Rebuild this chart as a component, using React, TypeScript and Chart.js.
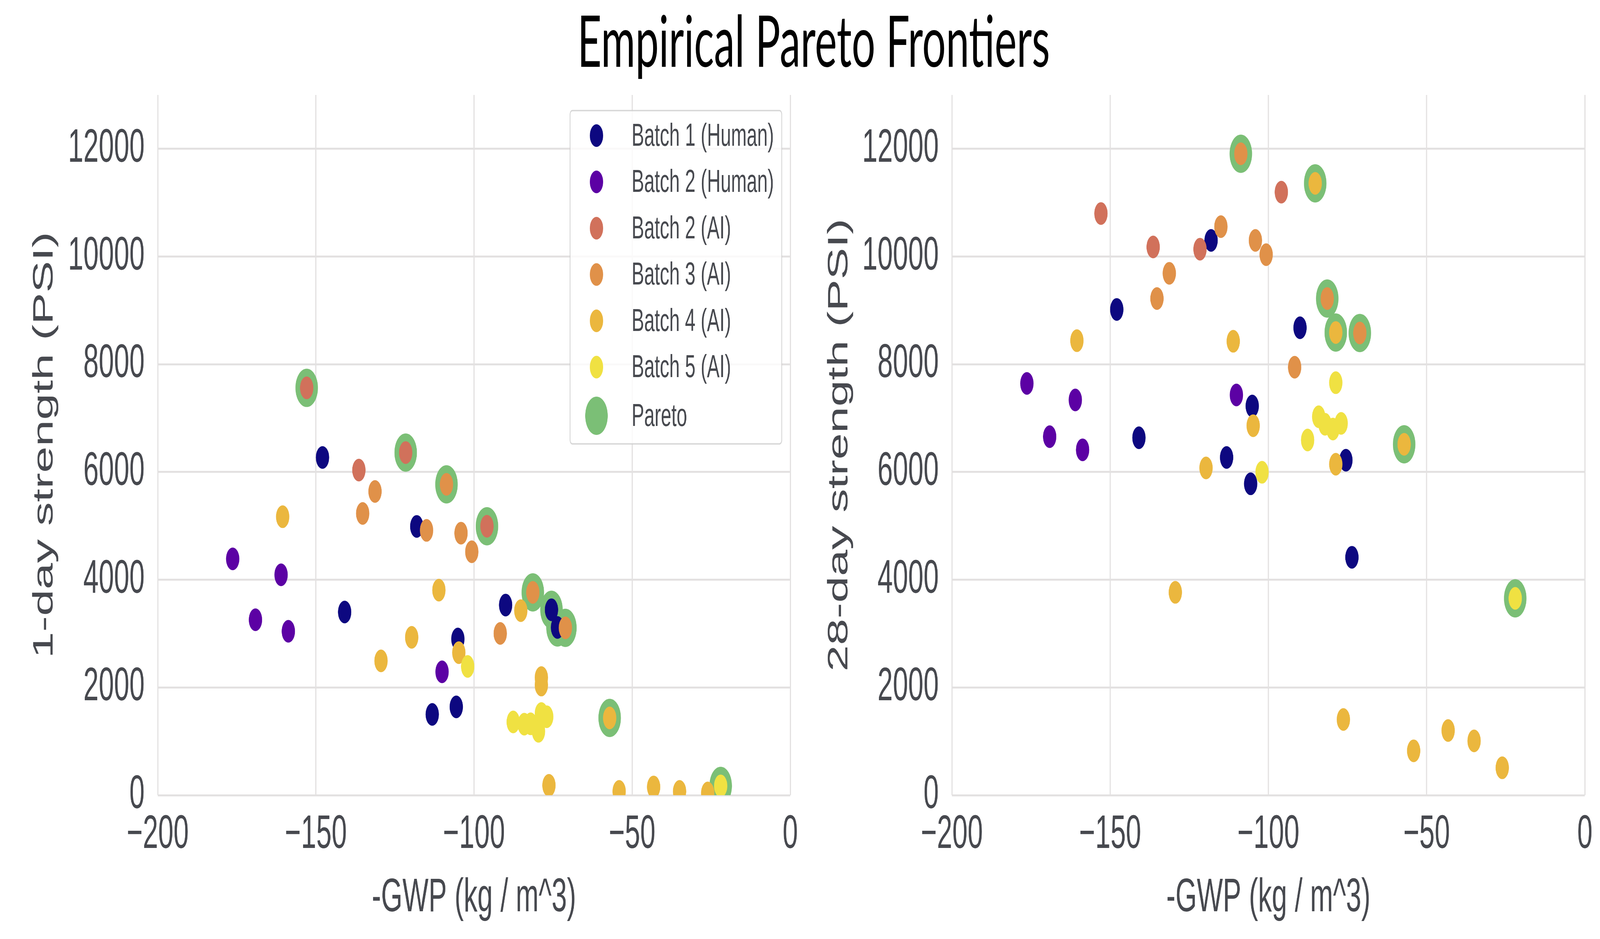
import { useEffect, useRef, useState } from 'react';
import { Chart, registerables } from 'chart.js';

// Register all Chart.js components
Chart.register(...registerables);

const FIG_W = 6969;
const FIG_H = 2403;

const batchLabels = ['Batch 1 (Human)', 'Batch 2 (Human)', 'Batch 2 (AI)', 'Batch 3 (AI)', 'Batch 4 (AI)', 'Batch 5 (AI)'];
const batchColors = ['#0d0880', '#5c01a4', '#d1715b', '#e09149', '#ebb73e', '#f0e142'];
const paretoLabel = 'Pareto';
const paretoColor = '#7bbf76';

const xTicks = [-200, -150, -100, -50, 0];
const yTicks = [0, 2000, 4000, 6000, 8000, 10000, 12000];

// -GWP (kg / m^3), 1-day and 28-day strength (PSI) per mix
const batch1Gwp = [-147.9, -118.1, -140.9, -113.2, -105.1, -105.6, -90.0, -75.5, -73.6];
const batch1Day1 = [6270, 4990, 3400, 1500, 2900, 1640, 3530, 3443, 3114];
const batch1Day28 = [9018, 10300, 6636, 6270, 7226, 5781, 8678, 6219, 4417];

const batch2HGwp = [-176.3, -161.0, -169.1, -158.7, -110.1];
const batch2HDay1 = [4387, 4092, 3257, 3043, 2290];
const batch2HDay28 = [7644, 7338, 6656, 6412, 7430];

const batch2AGwp = [-152.9, -136.4, -121.6, -95.9];
const batch2ADay1 = [7562, 6036, 6361, 4993];
const batch2ADay28 = [10799, 10178, 10137, 11196];

const batch3Gwp = [-131.3, -135.2, -108.7, -115.0, -104.1, -100.7, -91.7, -81.4, -71.1];
const batch3Day1 = [5639, 5231, 5771, 4916, 4865, 4519, 3003, 3765, 3107];
const batch3Day28 = [9689, 9221, 11908, 10555, 10300, 10035, 7945, 9220, 8581];

const batch4Gwp = [-160.5, -111.1, -119.7, -129.4, -104.8, -85.2, -78.7, -78.7, -57.1, -76.3, -54.1, -43.2, -35.0, -26.1];
const batch4Day1 = [5170, 3807, 2931, 2494, 2646, 3426, 2183, 2045, 1435, 183, 71, 153, 71, 41];
const batch4Day28 = [8438, 8427, 6076, 3766, 6860, 11359, 8590, 6145, 6514, 1405, 824, 1201, 1008, 509];

const batch5Gwp = [-102.0, -87.6, -84.1, -82.1, -78.7, -77.0, -79.6, -22.0];
const batch5Day1 = [2390, 1360, 1318, 1325, 1516, 1457, 1187, 173];
const batch5Day28 = [5995, 6594, 7026, 6887, 7658, 6903, 6797, 3654];

const paretoDay1Gwp = [-152.9, -121.6, -108.7, -95.9, -81.4, -75.5, -73.6, -71.1, -57.1, -22.0];
const paretoDay1 = [7562, 6361, 5771, 4993, 3765, 3443, 3114, 3107, 1435, 173];
const paretoDay28Gwp = [-108.7, -85.2, -81.4, -78.7, -71.1, -57.1, -22.0];
const paretoDay28 = [11908, 11359, 9220, 8590, 8581, 6514, 3654];

const batchGwp = [batch1Gwp, batch2HGwp, batch2AGwp, batch3Gwp, batch4Gwp, batch5Gwp];
const batchDay1 = [batch1Day1, batch2HDay1, batch2ADay1, batch3Day1, batch4Day1, batch5Day1];
const batchDay28 = [batch1Day28, batch2HDay28, batch2ADay28, batch3Day28, batch4Day28, batch5Day28];

const textColor = '#47494f';
const gridColor = '#e3e1e1';
const fontFamily = '"Liberation Sans", Arial, sans-serif';

const PLOT_TOP = 243;
const PLOT_BOTTOM = 2035;

const toPoints = (xs: number[], ys: number[]) => xs.map((x, i) => ({ x, y: ys[i] }));
const minusTick = (v: number | string) => {
  const n = Number(v);
  return n < 0 ? `\u2212${Math.abs(n)}` : `${n}`;
};

// legend drawn inside the plot, like matplotlib's "best" location
const legendBoxPlugin = {
  id: 'legendBox',
  afterDatasetsDraw(chart: any, _args: any, opts: any) {
    if (!opts || !opts.display) return;
    const ctx = chart.ctx;
    const { right, top } = chart.chartArea;
    const boxW = 922;
    const boxH = 853;
    const x0 = right - 37 - boxW;
    const y0 = top + 40;
    ctx.save();
    ctx.beginPath();
    ctx.roundRect(x0, y0, boxW, boxH, 10);
    ctx.fillStyle = 'rgba(255,255,255,0.8)';
    ctx.fill();
    ctx.lineWidth = 3.5;
    ctx.strokeStyle = 'rgba(204,204,204,0.8)';
    ctx.stroke();
    const entries = batchLabels.map((label, i) => ({ label, color: batchColors[i], r: 29 }));
    entries.push({ label: paretoLabel, color: paretoColor, r: 49 });
    ctx.font = `82px ${fontFamily}`;
    ctx.textBaseline = 'middle';
    entries.forEach((e, i) => {
      const cy = y0 + 64 + i * 118.5 + (i === 6 ? 6 : 0);
      ctx.beginPath();
      ctx.arc(x0 + 115, cy, e.r, 0, Math.PI * 2);
      ctx.fillStyle = e.color;
      ctx.fill();
      ctx.fillStyle = textColor;
      ctx.fillText(e.label, x0 + 268, cy + 3);
    });
    ctx.restore();
  },
};

interface PanelProps {
  left: number;
  width: number;
  plotRight: number; // wanted right edge of the plot area, in canvas pixels
  yValues: number[][];
  paretoGwp: number[];
  paretoVal: number[];
  yTitle: string;
  yAxisWidth: number;
  yTitlePad: number;
  showLegend: boolean;
}

const Panel = ({ left, width, plotRight, yValues, paretoGwp, paretoVal, yTitle, yAxisWidth, yTitlePad, showLegend }: PanelProps) => {
  const chartRef = useRef<HTMLCanvasElement>(null);
  const chartInstance = useRef<Chart | null>(null);

  useEffect(() => {
    if (!chartRef.current) return;
    if (chartInstance.current) chartInstance.current.destroy();
    const ctx = chartRef.current.getContext('2d');
    if (!ctx) return;

    const datasets: any[] = batchLabels.map((label, i) => ({
      label,
      data: toPoints(batchGwp[i], yValues[i]),
      backgroundColor: batchColors[i],
      borderWidth: 0,
      pointRadius: 29,
      pointHoverRadius: 29,
      clip: 0,
      order: 5 - i, // later batches on top
    }));
    datasets.push({
      label: paretoLabel,
      data: toPoints(paretoGwp, paretoVal),
      backgroundColor: paretoColor,
      borderWidth: 0,
      pointRadius: 49,
      pointHoverRadius: 49,
      clip: 0,
      order: 10,
    });

    const padding = { top: PLOT_TOP, right: width - plotRight, bottom: 0, left: 0 };

    const chart = new Chart(ctx, {
      type: 'scatter',
      data: { datasets },
      plugins: [legendBoxPlugin],
      options: {
        animation: false,
        responsive: false,
        devicePixelRatio: 1,
        layout: { padding },
        plugins: {
          legend: { display: false },
          tooltip: { enabled: false },
          legendBox: { display: showLegend },
        } as any,
        scales: {
          x: {
            type: 'linear',
            min: -200,
            max: 0,
            afterFit: (s: any) => { s.height = FIG_H - PLOT_BOTTOM; },
            afterBuildTicks: (s: any) => { s.ticks = xTicks.map((value) => ({ value })); },
            ticks: {
              autoSkip: false,
              callback: minusTick,
              color: textColor,
              font: { family: fontFamily, size: 120 },
              padding: 30,
              maxRotation: 0,
            },
            grid: { color: gridColor, lineWidth: 5, drawTicks: false },
            border: { display: false },
            title: {
              display: true,
              text: '-GWP (kg / m^3)',
              color: textColor,
              font: { family: fontFamily, size: 120 },
              padding: { top: 0, bottom: 32 },
            },
          },
          y: {
            type: 'linear',
            min: 0,
            max: 13000,
            afterFit: (s: any) => { s.width = yAxisWidth; },
            afterBuildTicks: (s: any) => { s.ticks = yTicks.map((value) => ({ value })); },
            ticks: {
              autoSkip: false,
              callback: (v: number | string) => `${v}`,
              color: textColor,
              font: { family: fontFamily, size: 120 },
              padding: 57,
            },
            grid: { color: gridColor, lineWidth: 5, drawTicks: false },
            border: { display: false },
            title: {
              display: true,
              text: yTitle,
              color: textColor,
              font: { family: fontFamily, size: 122 },
              padding: { top: yTitlePad, bottom: 0 },
            },
          },
        },
      } as any,
    });

    // nudge the layout padding so the plot area lands where the reference has it
    for (let k = 0; k < 3; k++) {
      const a = chart.chartArea;
      const dr = a.right - plotRight;
      const dt = a.top - PLOT_TOP;
      const db = a.bottom - PLOT_BOTTOM;
      if (Math.abs(dr) < 0.5 && Math.abs(dt) < 0.5 && Math.abs(db) < 0.5) break;
      padding.right = Math.max(0, padding.right + dr);
      padding.top = Math.max(0, padding.top - dt);
      padding.bottom = Math.max(0, padding.bottom + db);
      chart.update();
    }
    chartInstance.current = chart;

    return () => {
      if (chartInstance.current) {
        chartInstance.current.destroy();
        chartInstance.current = null;
      }
    };
  }, [yValues, paretoGwp, paretoVal, yTitle, yAxisWidth, yTitlePad, plotRight, showLegend, width]);

  return (
    <canvas
      ref={chartRef}
      width={width}
      height={FIG_H}
      style={{ position: 'absolute', left, top: 0, width, height: FIG_H }}
    />
  );
};

export default function App() {
  // the browser window may be narrower than the figure: fit the figure into it
  const [fit] = useState(() => ({
    sx: Math.min(1, (window.innerWidth || FIG_W) / FIG_W),
    sy: Math.min(1, (window.innerHeight || FIG_H) / FIG_H),
  }));

  return (
    <div
      style={{
        position: 'absolute',
        left: 0,
        top: 0,
        width: FIG_W,
        height: FIG_H,
        background: '#ffffff',
        overflow: 'hidden',
        transform: `scale(${fit.sx}, ${fit.sy})`,
        transformOrigin: '0 0',
      }}
    >
      <div
        style={{
          position: 'absolute',
          left: 0,
          top: 10,
          width: 7088,
          textAlign: 'center',
          fontFamily: 'Lato, "Open Sans", sans-serif',
          fontSize: 182,
          lineHeight: '182px',
          color: '#000000',
          whiteSpace: 'nowrap',
        }}
      >
        Empirical Pareto Frontiers
      </div>
      <Panel
        left={0}
        width={3530}
        plotRight={3442}
        yValues={batchDay1}
        paretoGwp={paretoDay1Gwp}
        paretoVal={paretoDay1}
        yTitle="1-day strength (PSI)"
        yAxisWidth={687}
        yTitlePad={122}
        showLegend={true}
      />
      <Panel
        left={3480}
        width={3489}
        plotRight={3423}
        yValues={batchDay28}
        paretoGwp={paretoDay28Gwp}
        paretoVal={paretoDay28}
        yTitle="28-day strength (PSI)"
        yAxisWidth={666}
        yTitlePad={104}
        showLegend={false}
      />
    </div>
  );
}
